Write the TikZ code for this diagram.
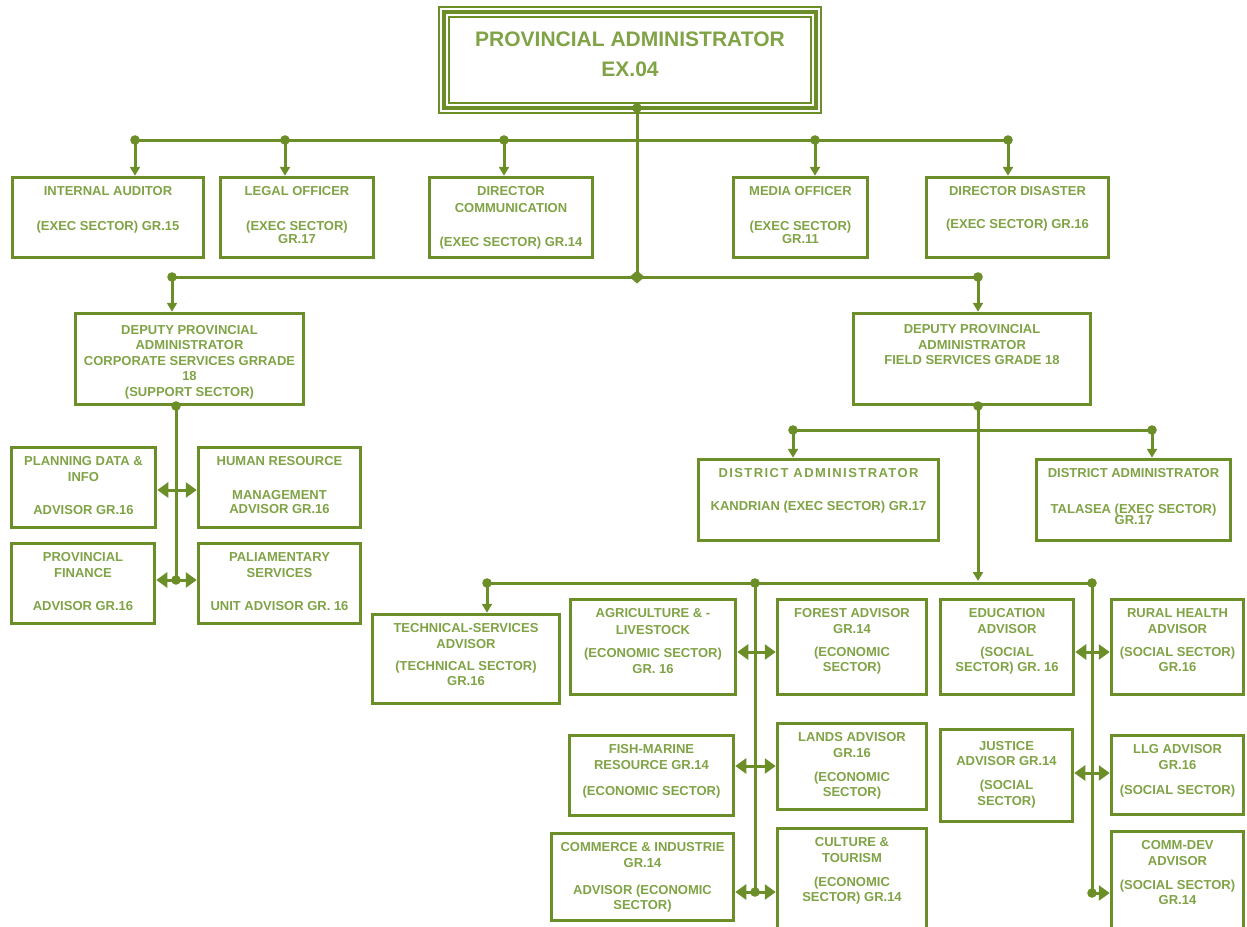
\documentclass[tikz,border=0pt]{standalone}
\usepackage{fontspec}
\setmainfont{Liberation Sans}
\usetikzlibrary{arrows.meta}
\definecolor{olivebar}{RGB}{108,142,40}
\definecolor{olivetext}{RGB}{128,163,70}
% text block of a box: width, height, lines (top aligned)
\newcommand{\cell}[3]{\parbox[c][#2pt][t]{#1pt}{\centering\rule{0pt}{18.5pt}#3}}

\begin{document}
\begin{tikzpicture}[x=1pt, y=-1pt,
    box/.style={draw=olivebar, line width=3pt, inner sep=0pt, text=olivetext, font=\bfseries\fontsize{13}{15.5}\selectfont},
    titlebox/.style={box, line width=3.5pt, font=\bfseries\fontsize{21}{30}\selectfont,
        preaction={draw=olivebar, line width=11.5pt}, preaction={draw=white, line width=8.5pt}},
    link/.style={draw=olivebar, line width=3pt},
    tap/.style={link, -{Triangle[length=9pt, width=10pt]}},
    twoway/.style={link, {Triangle[length=11pt, width=15pt]}-{Triangle[length=11pt, width=15pt]}},
    oneway/.style={link, -{Triangle[length=11pt, width=15pt]}}
]
\useasboundingbox (0,0) rectangle (1247,926);

% top
\node[titlebox] (pa) at (630,60) {\parbox[c][96pt][t]{372pt}{\centering\rule{0pt}{34pt}PROVINCIAL ADMINISTRATOR\\EX.04}};

% executive row
\node[box] (ia) at (108,217.5) {\cell{191.5}{80.5}{INTERNAL AUDITOR\\[19pt](EXEC SECTOR) GR.15}};
\node[box] (lo) at (297,217.5) {\cell{153.5}{80.5}{LEGAL OFFICER\\[19pt](EXEC SECTOR)\\[-2.5pt]GR.17}};
\node[box] (dc) at (511,217.5) {\cell{163.5}{80.5}{DIRECTOR\\[1.5pt]COMMUNICATION\\[18.5pt](EXEC SECTOR) GR.14}};
\node[box] (mo) at (800.5,217.5) {\cell{134.5}{80.5}{MEDIA OFFICER\\[19pt](EXEC SECTOR)\\[-2.5pt]GR.11}};
\node[box] (dd) at (1017.5,217.5) {\cell{182.5}{80.5}{DIRECTOR DISASTER\\[17.5pt](EXEC SECTOR) GR.16}};

% deputies
\node[box] (dpc) at (189.5,359) {\cell{228.5}{91.5}{\rule{0pt}{21pt}DEPUTY PROVINCIAL\\ADMINISTRATOR\\CORPORATE SERVICES GRRADE\\18\\(SUPPORT SECTOR)}};
\node[box] (dpf) at (972,359) {\cell{237.5}{91.5}{\rule{0pt}{20.5pt}DEPUTY PROVINCIAL\\ADMINISTRATOR\\FIELD SERVICES GRADE 18}};

% support sector
\node[box] (pd) at (83.5,487.5) {\cell{144.5}{80.5}{PLANNING DATA \&\\INFO\\[17.5pt]ADVISOR GR.16}};
\node[box] (hr) at (279.5,487.5) {\cell{162.5}{80.5}{HUMAN RESOURCE\\[18.5pt]MANAGEMENT\\[-1.5pt]ADVISOR GR.16}};
\node[box] (pf) at (83,583.5) {\cell{143.5}{80.5}{PROVINCIAL\\FINANCE\\[17.5pt]ADVISOR GR.16}};
\node[box] (ps) at (279.5,583.5) {\cell{162.5}{80.5}{PALIAMENTARY\\SERVICES\\[17.5pt]UNIT ADVISOR GR. 16}};

% districts
\node[box] (dk) at (818.5,500) {\cell{240.5}{81.5}{{\addfontfeatures{LetterSpace=11}DISTRICT ADMINISTRATOR}\\[17.5pt]KANDRIAN (EXEC SECTOR) GR.17}};
\node[box] (dt) at (1133.5,500) {\cell{194.5}{81.5}{DISTRICT ADMINISTRATOR\\[20.5pt]TALASEA (EXEC SECTOR)\\[-4.5pt]GR.17}};

% field advisors
\node[box] (ts) at (466,659) {\cell{187.5}{89.5}{TECHNICAL-SERVICES\\ADVISOR\\[6.5pt](TECHNICAL SECTOR)\\GR.16}};
\node[box] (ag) at (653,647) {\cell{165.5}{95.5}{AGRICULTURE \& -\\[1.5pt]LIVESTOCK\\[7.5pt](ECONOMIC SECTOR)\\GR. 16}};
\node[box] (fo) at (852,647) {\cell{149.5}{95.5}{FOREST ADVISOR\\GR.14\\[7.5pt](ECONOMIC\\SECTOR)}};
\node[box] (ed) at (1007,647) {\cell{133.5}{95.5}{EDUCATION\\ADVISOR\\[7.5pt](SOCIAL\\SECTOR) GR. 16}};
\node[box] (rh) at (1177.5,647) {\cell{132.5}{95.5}{RURAL HEALTH\\ADVISOR\\[7.5pt](SOCIAL SECTOR)\\GR.16}};
\node[box] (fm) at (651.5,775.5) {\cell{164.5}{80.5}{FISH-MARINE\\RESOURCE GR.14\\[10.5pt](ECONOMIC SECTOR)}};
\node[box] (la) at (852,766.5) {\cell{149.5}{86.5}{LANDS ADVISOR\\GR.16\\[8.5pt](ECONOMIC\\SECTOR)}};
\node[box] (ju) at (1006.5,775.5) {\cell{132.5}{92.5}{\rule{0pt}{21pt}JUSTICE\\ADVISOR GR.14\\[8.5pt](SOCIAL\\SECTOR)}};
\node[box] (ll) at (1177.5,775) {\cell{132.5}{79.5}{LLG ADVISOR\\GR.16\\[9.5pt](SOCIAL SECTOR)}};
\node[box] (ci) at (642.5,877) {\cell{182.5}{87.5}{COMMERCE \& INDUSTRIE\\GR.14\\[11.5pt]ADVISOR (ECONOMIC\\SECTOR)}};
\node[box] (ct) at (852,881) {\cell{149.5}{105.5}{CULTURE \&\\TOURISM\\[8.5pt](ECONOMIC\\SECTOR) GR.14}};
\node[box] (cd) at (1177.5,882.5) {\cell{132.5}{102.5}{COMM-DEV\\ADVISOR\\[8.5pt](SOCIAL SECTOR)\\GR.14}};

% junctions
\coordinate (p0) at (637,108);
\coordinate (hub) at (637,277);
\coordinate (t1) at (135,140);
\coordinate (t2) at (285,140);
\coordinate (t3) at (504,140);
\coordinate (t4) at (815,140);
\coordinate (t5) at (1008,140);
\coordinate (d1) at (172,277);
\coordinate (d2) at (978,277);
\coordinate (c0) at (176,406);
\coordinate (c1) at (176,490);
\coordinate (c2) at (176,580);
\coordinate (f0) at (978,406);
\coordinate (k1) at (793,430);
\coordinate (k2) at (1152,430);
\coordinate (b1) at (487,583);
\coordinate (b2) at (755,583);
\coordinate (b3) at (1092,583);
\coordinate (bf) at (978,581);
\coordinate (e1) at (755,652);
\coordinate (e2) at (755,766);
\coordinate (e3) at (755,892);
\coordinate (s1) at (1092,652);
\coordinate (s2) at (1092,773);
\coordinate (s3) at (1092,893);

% connectors
\draw[link] (p0) -- (hub);
\draw[link] (t1) -- (t5);
\foreach \t/\b in {t1/ia, t2/lo, t3/dc, t4/mo, t5/dd}
    \draw[tap] (\t) -- (\t |- \b.north);
\draw[link] (d1) -- (d2);
\draw[tap] (d1) -- (d1 |- dpc.north);
\draw[tap] (d2) -- (d2 |- dpf.north);

\draw[link] (c0) -- (c2);
\draw[twoway] (c1 -| pd.east) -- (c1 -| hr.west);
\draw[twoway] (c2 -| pf.east) -- (c2 -| ps.west);

\draw[tap] (f0) -- (bf);
\draw[link] (k1) -- (k2);
\draw[tap] (k1) -- (k1 |- dk.north);
\draw[tap] (k2) -- (k2 |- dt.north);

\draw[link] (b1) -- (b3);
\draw[tap] (b1) -- (b1 |- ts.north);
\draw[link] (b2) -- (e3);
\draw[link] (b3) -- (s3);
\foreach \v/\l/\r in {e1/ag/fo, e2/fm/la, e3/ci/ct, s1/ed/rh, s2/ju/ll}
    \draw[twoway] (\v -| \l.east) -- (\v -| \r.west);
\draw[oneway] (s3) -- (s3 -| cd.west);

% dots
\foreach \d in {p0, t1, t2, t3, t4, t5, d1, d2, c0, c2, f0, k1, k2, b1, b2, b3, e3, s3}
    \fill[olivebar] (\d) circle (4.8pt);
\fill[olivebar] (hub) +(0,-6.5) -- +(7.5,0) -- +(0,6.5) -- +(-7.5,0) -- cycle;
\end{tikzpicture}
\end{document}
